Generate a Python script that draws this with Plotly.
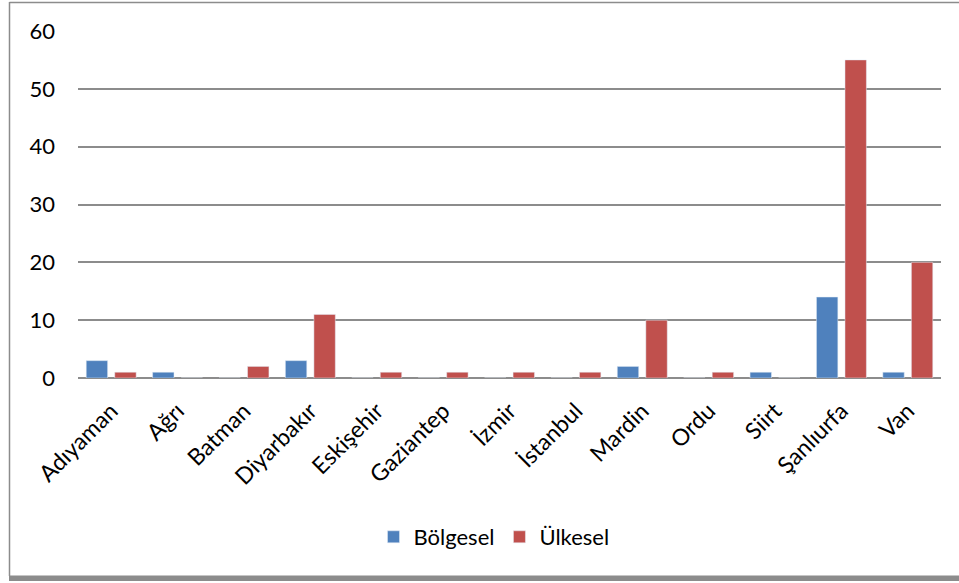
import plotly.graph_objects as go

categories = ["Adıyaman", "Ağrı", "Batman", "Diyarbakır", "Eskişehir", "Gaziantep",
              "İzmir", "İstanbul", "Mardin", "Ordu", "Siirt", "Şanlıurfa", "Van"]
bolgesel = [3, 1, 0, 3, 0, 0, 0, 0, 2, 0, 1, 14, 1]
ulkesel = [1, 0, 2, 11, 1, 1, 1, 1, 10, 1, 0, 55, 20]
y_ticks = [0, 10, 20, 30, 40, 50, 60]

FONT = "Lato, Open Sans, sans-serif"

fig = go.Figure()
fig.add_trace(go.Bar(x=categories, y=bolgesel, name="Bölgesel", marker_color="#4F81BD"))
fig.add_trace(go.Bar(x=categories, y=ulkesel, name="Ülkesel", marker_color="#C0504D"))

W, H = 959, 583
L = 78
T = 31
R = W - 941
B = H - 378
pw, ph = W - L - R, H - T - B

def px(x):
    return (x - L) / pw

def py(y):
    return (H - B - y) / ph

shapes = [
    dict(type="line", xref="paper", yref="paper", x0=px(9.5), x1=px(9.5), y0=py(2), y1=py(576),
         line=dict(color="#8c8c8c", width=1.5)),
    dict(type="line", xref="paper", yref="paper", x0=px(9.5), x1=px(959), y0=py(2.5), y1=py(2.5),
         line=dict(color="#8c8c8c", width=1.5)),
    dict(type="rect", xref="paper", yref="paper", x0=px(9), x1=px(959), y0=py(575.5), y1=py(581),
         fillcolor="#8c8c8c", line=dict(width=0)),
]

fig.update_layout(
    width=W, height=H,
    margin=dict(l=L, r=R, t=T, b=B),
    paper_bgcolor="white", plot_bgcolor="white",
    barmode="group", bargap=0.14, bargroupgap=0.25,
    font=dict(family=FONT, size=22, color="black"),
    showlegend=True,
    legend=dict(orientation="h", x=(px(376) + px(612)) / 2, xanchor="center", y=py(537), yanchor="middle",
                font=dict(size=22), itemwidth=30, traceorder="normal"),
    shapes=shapes,
    xaxis=dict(tickangle=-45, showgrid=False, showline=False, ticks="",
               ticklabelstandoff=14, tickfont=dict(size=23)),
    yaxis=dict(range=[0, 60], tickvals=y_ticks, showgrid=True, gridcolor="#8c8c8c", gridwidth=1.5,
               zeroline=True, zerolinecolor="#8c8c8c", zerolinewidth=1.5, showline=False,
               ticks="", ticklabelstandoff=22, tickfont=dict(size=22)),
)

fig.write_html("out.html", config={"displayModeBar": False},
               post_script="document.body.style.margin='0';document.body.style.overflow='hidden';")
